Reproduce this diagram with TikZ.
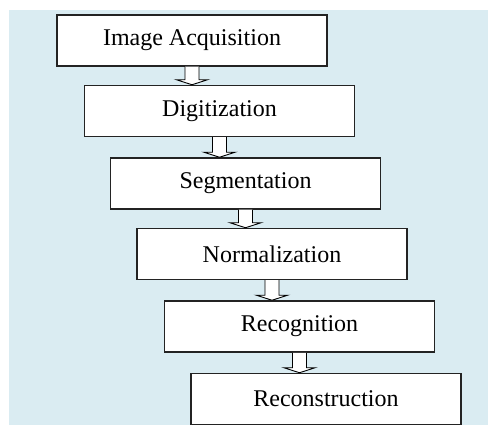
\documentclass[tikz,border=0pt]{standalone}
\usepackage{fontspec}
\setmainfont{Liberation Serif}
\usetikzlibrary{calc}

\definecolor{panelblue}{RGB}{218,236,242}
\definecolor{boxline}{RGB}{35,35,35}

\tikzset{
  stagebox/.style={draw=boxline, line width=1.5pt, fill=white, rectangle,
    minimum width=270pt, minimum height=51pt, inner sep=0pt,
    font=\fontsize{24}{28}\selectfont},
  blockarrow/.style={draw=black, line width=0.9pt, fill=white, line join=miter}
}

% hollow block arrow from the bottom of #1 down to the top of #2
\newcommand{\stagearrow}[2]{%
  \draw[blockarrow] let \p1=(#1.south), \p2=(#2.north) in
    ({\x1-7pt},\y1) -- ({\x1-7pt},{\y2+5pt}) -- ({\x1-15.5pt},{\y2+5pt})
    -- (\x1,\y2) -- ({\x1+15.5pt},{\y2+5pt}) -- ({\x1+7pt},{\y2+5pt})
    -- ({\x1+7pt},\y1);
}

\begin{document}
\begin{tikzpicture}[x=1pt,y=-1pt]
    \useasboundingbox (0,0) rectangle (488,425);
    \fill[panelblue] (9,10) rectangle (488,425);

    \node[stagebox] (acq) at (192,40.5) {Image Acquisition};
    \node[stagebox] (dig) at (219.5,111) {Digitization};
    \node[stagebox] (seg) at (245.5,183.5) {Segmentation};
    \node[stagebox] (nrm) at (272,254) {Normalization};
    \node[stagebox] (rec) at (299.5,326.5) {Recognition};
    \node[stagebox] (rcn) at (326,399) {Reconstruction};

    \stagearrow{acq}{dig}
    \stagearrow{dig}{seg}
    \stagearrow{seg}{nrm}
    \stagearrow{nrm}{rec}
    \stagearrow{rec}{rcn}
  \end{tikzpicture}
\end{document}
